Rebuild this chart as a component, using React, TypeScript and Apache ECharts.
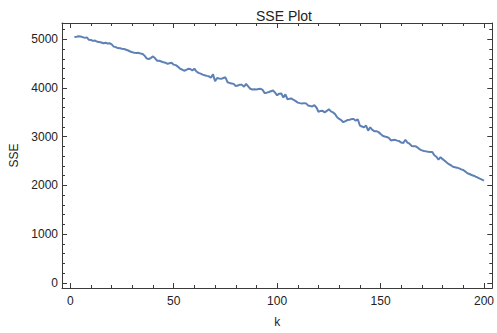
import React, { useEffect, useRef } from "react";
import * as echarts from "echarts";

const kStart = 2;
const sseValues: number[] = [
  5050, 5055, 5062, 5058, 5045, 5030, 5040, 4990, 4985, 4968,
  4975, 4950, 4945, 4935, 4920, 4930, 4915, 4920, 4895, 4850,
  4840, 4820, 4815, 4805, 4800, 4785, 4770, 4750, 4735, 4725,
  4720, 4722, 4710, 4700, 4660, 4605, 4595, 4620, 4650, 4610,
  4560, 4560, 4545, 4530, 4520, 4498, 4510, 4518, 4480, 4470,
  4440, 4400, 4380, 4356, 4370, 4395, 4390, 4360, 4398, 4340,
  4310, 4295, 4275, 4262, 4250, 4240, 4210, 4280, 4140, 4205,
  4195, 4188, 4205, 4220, 4120, 4105, 4095, 4085, 4040, 4050,
  4070, 4065, 4026, 4085, 4035, 3985, 3970, 3975, 3972, 3980,
  3985, 3960, 3895, 3905, 3918, 3935, 3950, 3905, 3850, 3885,
  3890, 3805, 3870, 3770, 3780, 3785, 3755, 3730, 3700, 3690,
  3682, 3690, 3685, 3640, 3630, 3622, 3647, 3600, 3512, 3530,
  3532, 3500, 3530, 3566, 3520, 3500, 3465, 3400, 3365, 3340,
  3298, 3320, 3343, 3350, 3362, 3363, 3330, 3360, 3230, 3210,
  3195, 3228, 3126, 3195, 3140, 3114, 3115, 3095, 3059, 3020,
  3005, 2995, 2978, 2924, 2935, 2937, 2920, 2911, 2880, 2871,
  2938, 2880, 2857, 2812, 2805, 2803, 2776, 2740, 2721, 2708,
  2700, 2690, 2688, 2688, 2620, 2590, 2532, 2580, 2540, 2506,
  2470, 2437, 2415, 2384, 2375, 2365, 2350, 2330, 2316, 2285,
  2250, 2235, 2215, 2200, 2180, 2161, 2140, 2120, 2100,
];

const xMajorTicks = [0, 50, 100, 150, 200];
const xMinorTicks = [10, 20, 30, 40, 60, 70, 80, 90, 110, 120, 130, 140, 160, 170, 180, 190];
const yMajorTicks = [0, 1000, 2000, 3000, 4000, 5000];
const yMinorTicks = [
  200, 400, 600, 800, 1200, 1400, 1600, 1800, 2200, 2400, 2600, 2800,
  3200, 3400, 3600, 3800, 4200, 4400, 4600, 4800, 5200,
];

const X_MIN = -4;
const X_MAX = 204;
const Y_MIN = -105;
const Y_MAX = 5335;

const FRAME = "#3a3a3a";
const TEXT = "#222";
const FONT = "Liberation Sans, Arial, sans-serif";

const plain = (v: number) => String(v);

export default function App() {
  const ref = useRef<HTMLDivElement>(null);

  useEffect(() => {
    if (!ref.current) return;
    const chart = echarts.init(ref.current, undefined, { renderer: "svg" });

    const data = sseValues.map((v, i) => [kStart + i, v]);

    const xAxisBase = (position: "top" | "bottom", ticks: number[], len: number, labels: boolean, line: boolean, name?: string) => ({
      type: "value",
      position,
      min: X_MIN,
      max: X_MAX,
      name,
      nameLocation: "middle",
      nameGap: 28,
      nameTextStyle: { color: TEXT, fontSize: 12, fontFamily: FONT },
      axisLine: { show: line, onZero: false, lineStyle: { color: FRAME, width: 1 } },
      axisTick: { show: true, inside: true, length: len, customValues: ticks, lineStyle: { color: FRAME, width: 1 } },
      axisLabel: labels
        ? { show: true, customValues: ticks, formatter: plain, color: TEXT, fontSize: 12, fontFamily: FONT, margin: 7 }
        : { show: false },
      splitLine: { show: false },
    });

    const yAxisBase = (position: "left" | "right", ticks: number[], len: number, labels: boolean, line: boolean, name?: string) => ({
      type: "value",
      position,
      min: Y_MIN,
      max: Y_MAX,
      name,
      nameLocation: "middle",
      nameGap: 42,
      nameRotate: 90,
      nameTextStyle: { color: TEXT, fontSize: 12, fontFamily: FONT },
      axisLine: { show: line, onZero: false, lineStyle: { color: FRAME, width: 1 } },
      axisTick: { show: true, inside: true, length: len, customValues: ticks, lineStyle: { color: FRAME, width: 1 } },
      axisLabel: labels
        ? { show: true, customValues: ticks, formatter: plain, color: TEXT, fontSize: 12, fontFamily: FONT, margin: 4 }
        : { show: false },
      splitLine: { show: false },
    });

    chart.setOption({
      animation: false,
      title: {
        text: "SSE Plot",
        left: 279,
        top: 4,
        textAlign: "center",
        textStyle: { color: TEXT, fontSize: 14, fontWeight: "normal", fontFamily: FONT },
      },
      grid: { left: 62, right: 1, top: 23, bottom: 42, containLabel: false },
      xAxis: [
        xAxisBase("bottom", xMajorTicks, 5, true, true, "k"),
        xAxisBase("top", xMajorTicks, 5, false, true),
        xAxisBase("bottom", xMinorTicks, 3, false, false),
        xAxisBase("top", xMinorTicks, 3, false, false),
      ],
      yAxis: [
        yAxisBase("left", yMajorTicks, 5, true, true, "SSE"),
        yAxisBase("right", yMajorTicks, 5, false, true),
        yAxisBase("left", yMinorTicks, 3, false, false),
        yAxisBase("right", yMinorTicks, 3, false, false),
      ],
      series: [
        {
          type: "line",
          data,
          xAxisIndex: 0,
          yAxisIndex: 0,
          showSymbol: false,
          symbol: "none",
          lineStyle: { color: "#5E81B5", width: 2 },
          itemStyle: { color: "#5E81B5" },
        },
      ],
    });

    return () => chart.dispose();
  }, []);

  return (
    <div
      ref={ref}
      style={{ position: "fixed", left: 0, top: 0, width: 497, height: 333, background: "#fff" }}
    />
  );
}
